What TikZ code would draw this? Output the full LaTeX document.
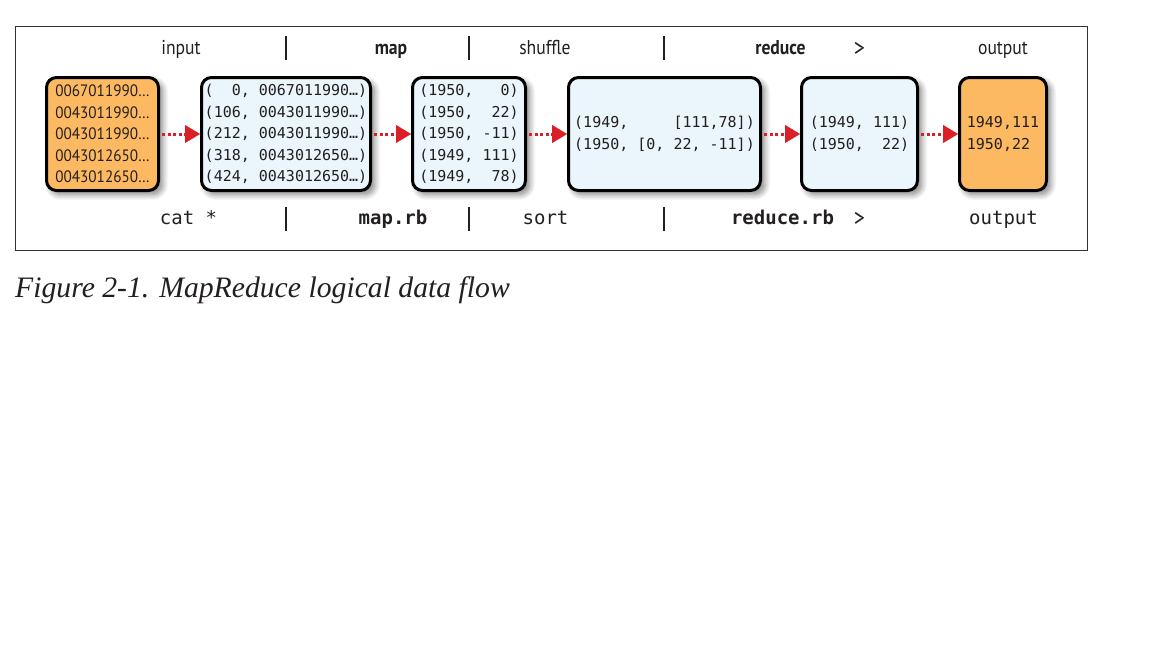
\documentclass[tikz,border=0pt]{standalone}
\usepackage{fontspec}
\setmainfont{Liberation Serif}
\newfontfamily\condsans[FakeStretch=0.88]{PT Sans}
\newfontfamily\boxsans[FakeStretch=0.92]{PT Sans}
\newfontfamily\monof{DejaVu Sans Mono}
\usetikzlibrary{arrows.meta,shadows.blur}
\definecolor{boxorange}{HTML}{FDB962}
\definecolor{boxblue}{HTML}{EAF6FC}
\definecolor{arrred}{HTML}{DA1F26}
\definecolor{captxt}{HTML}{231F20}
\definecolor{labtxt}{HTML}{231F20}
\begin{document}
\begin{tikzpicture}[x=1pt,y=-1pt,
  box/.style={draw=black, line width=3pt, rounded corners=10pt, minimum height=113pt,
    inner sep=0pt, align=left,
    blur shadow={shadow xshift=4pt, shadow yshift=-4pt, shadow opacity=50, shadow blur steps=10, shadow blur radius=6pt}},
  obox/.style={box, fill=boxorange},
  bbox/.style={box, fill=boxblue},
  mono/.style={font=\monof\fontsize{15}{21.5}\selectfont, text=labtxt},
  sanstxt/.style={font=\boxsans\fontsize{16.5}{21.5}\selectfont, text=labtxt},
  toplab/.style={anchor=base, inner sep=0pt, text=labtxt, font=\condsans\fontsize{20}{22}\selectfont},
  botlab/.style={anchor=base, inner sep=0pt, text=labtxt, font=\monof\fontsize{19}{20}\selectfont},
  gtlab/.style={anchor=base, inner sep=0pt, text=labtxt, font=\condsans\fontsize{25}{26}\selectfont},
  sepbar/.style={draw=labtxt, line width=1.6pt},
  arr/.style={draw=arrred, line width=3pt, dash pattern=on 3pt off 2.5pt,
    -{Triangle[length=15pt, width=18pt, line width=0.1pt]}},
]
\useasboundingbox (0,0) rectangle (1152,648);
\node[draw=black!80, line width=1pt, minimum width=1072pt, minimum height=224pt, inner sep=0pt] (frame) at (551,138) {};

% top labels
\node[toplab] (tin) at (181,54.5) {input};
\node[toplab] (tmap) at (391,54.5) {\bfseries map};
\node[toplab] (tshuf) at (545,54.5) {shuffle};
\node[toplab] (tred) at (780.5,54.5) {\bfseries reduce};
\node[gtlab] (tgt) at (859.5,56) {>};
\node[toplab] (tout) at (1003,54.5) {output};

% bottom labels
\node[botlab] (bcat) at (188.5,224) {cat *};
\node[botlab] (bmap) at (393,224) {\bfseries map.rb};
\node[botlab] (bsort) at (545.5,224) {sort};
\node[botlab] (bred) at (782.5,224) {\bfseries reduce.rb};
\node[gtlab] (bgt) at (859.5,226) {>};
\node[botlab] (bout) at (1003.5,224) {output};

% separators
\foreach \xx/\nm in {286/a,469/b,664/c}{
  \coordinate (st\nm) at (\xx,36);
  \coordinate (sb\nm) at (\xx,60);
  \draw[sepbar] (st\nm) -- (sb\nm);
  \coordinate (ut\nm) at (\xx,207);
  \coordinate (ub\nm) at (\xx,231);
  \draw[sepbar] (ut\nm) -- (ub\nm);
}

% boxes
\node[obox, sanstxt, minimum width=112pt] (b1) at (102.5,134)
  {0067011990…\\0043011990…\\0043011990…\\0043012650…\\0043012650…};
\node[bbox, mono, minimum width=169pt] (b2) at (286,134)
  {(~~0, 0067011990…)\\(106, 0043011990…)\\(212, 0043011990…)\\(318, 0043012650…)\\(424, 0043012650…)};
\node[bbox, mono, minimum width=113pt] (b3) at (469,134)
  {(1950,~~~0)\\(1950,~~22)\\(1950, -11)\\(1949, 111)\\(1949,~~78)};
\node[bbox, mono, minimum width=192pt] (b4) at (664.5,134)
  {(1949,~~~~~[111,78])\\(1950, [0, 22, -11])};
\node[bbox, mono, minimum width=116pt] (b5) at (859.5,134)
  {(1949, 111)\\(1950,~~22)};
\node[obox, mono, minimum width=87pt] (b6) at (1003,134)
  {1949,111\\1950,22};

% arrows
\draw[arr] ([xshift=2pt]b1.east) -- (b2.west);
\draw[arr] ([xshift=2pt]b2.east) -- (b3.west);
\draw[arr] ([xshift=2pt]b3.east) -- (b4.west);
\draw[arr] ([xshift=2pt]b4.east) -- (b5.west);
\draw[arr] ([xshift=2pt]b5.east) -- (b6.west);

% caption
\node[anchor=base west, inner sep=0pt, text=captxt, font=\fontsize{29.7}{31}\selectfont\itshape] (cap) at (15,297)
  {Figure 2-1. MapReduce logical data flow};
\end{tikzpicture}
\end{document}
